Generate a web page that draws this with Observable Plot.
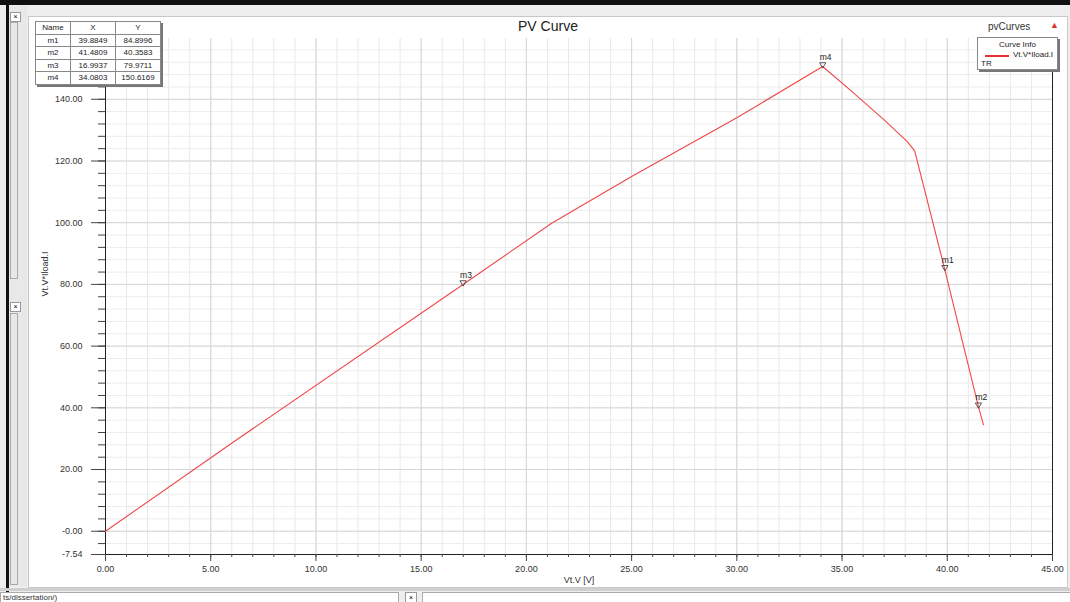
<!DOCTYPE html>
<html>
<head>
<meta charset="utf-8">
<script src="https://cdn.jsdelivr.net/npm/d3@7"></script>
<script src="https://cdn.jsdelivr.net/npm/@observablehq/plot@0.6"></script>
<style>
  body { margin: 0; background: #ffffff; font-family: "Liberation Sans", Arial, sans-serif; }
  #wrap { position: relative; width: 1070px; height: 602px; overflow: hidden; background: #eeeeee; }
  .abs { position: absolute; }
  #frame { left: 28px; top: 16px; width: 1040px; height: 572px; background: #ffffff; border: 1px solid #c8c8c8; box-sizing: border-box; }
  #chart { position: absolute; left: 0; top: 0; }
  #chart svg { background: transparent; }
  #title { left: 0; width: 1096px; top: 18px; text-align: center; font-size: 14px; color: #222; }
  #sub { left: 988px; top: 21px; font-size: 10px; color: #333; }
  #mtable { left: 35px; top: 21px; border-collapse: collapse; font-size: 8px; color: #222; background: #fff; box-shadow: 2px 2px 0 #777; }
  #mtable td { border: 1px solid #888; padding: 0 3px; height: 11.5px; text-align: center; line-height: 11px; }
  #legend { left: 977px; top: 37px; width: 81px; height: 33px; background: #fff; border: 1px solid #888; box-shadow: 2px 2px 0 #777; font-size: 8px; color: #222; box-sizing: border-box; }
</style>
</head>
<body>
<div id="wrap">
  <div class="abs" style="left:0;top:0;width:1070px;height:5px;background:#111"></div>
  <div class="abs" style="left:6px;top:0;width:3px;height:602px;background:#111"></div>
  <div class="abs" style="left:9px;top:6px;width:18px;height:580px;background:#e8e8e8"></div>
  <div class="abs" style="left:10px;top:12px;width:9px;height:8px;border:1px solid #999;background:#fff;font-size:7px;line-height:8px;text-align:center">×</div>
  <div class="abs" style="left:10px;top:22px;width:6px;height:255px;border:1px solid #aaa;"></div>
  <div class="abs" style="left:10px;top:302px;width:9px;height:8px;border:1px solid #999;background:#fff;font-size:7px;line-height:8px;text-align:center">×</div>
  <div class="abs" style="left:10px;top:313px;width:6px;height:270px;border:1px solid #aaa;"></div>
  <div class="abs" id="frame"></div>
  <div id="chart"></div>
  <div class="abs" id="title">PV Curve</div>
  <div class="abs" id="sub">pvCurves</div>
  <div class="abs" style="left:1050px;top:20px;font-size:9px;color:#d33">▲</div>
  <table class="abs" id="mtable"></table>
  <div class="abs" id="legend">
    <div style="text-align:center;margin-top:2px">Curve Info</div>
    <div style="position:absolute;left:7px;top:17px;width:24px;height:1.5px;background:#e83030"></div>
    <div style="position:absolute;left:35px;top:12px">Vt.V*Iload.I</div>
    <div style="position:absolute;left:3px;top:21px">TR</div>
  </div>
  <div class="abs" style="left:0;top:588px;width:1070px;height:3px;background:#cfcfcf"></div>
  <div class="abs" style="left:0;top:592px;width:395px;height:10px;background:#fff;border:1px solid #aaa;font-size:8px;line-height:10px;color:#333;padding-left:2px">ts/dissertation/)</div>
  <div class="abs" style="left:405px;top:592px;width:10px;height:9px;border:1px solid #999;background:#fff;font-size:7px;line-height:9px;text-align:center">×</div>
  <div class="abs" style="left:422px;top:592px;width:650px;height:10px;background:#fff;border:1px solid #aaa"></div>
</div>
<script>
// Curve data
const voltage = [0, 6.2, 16.99, 21.2, 25, 30, 34.08, 35.5, 37, 38.1, 38.45, 39.88, 41.48, 41.72];
const power   = [0, 29.5, 79.97, 99.8, 115, 134, 150.62, 142.3, 133.3, 126.3, 123.3, 84.90, 40.36, 34.5];

// Markers
const markerNames = ["m1", "m2", "m3", "m4"];
const markerX = [39.8849, 41.4809, 16.9937, 34.0803];
const markerY = [84.8996, 40.3583, 79.9711, 150.6169];

// Ticks
const xTicks = [0, 5, 10, 15, 20, 25, 30, 35, 40, 45];
const xTickLabels = ["0.00", "5.00", "10.00", "15.00", "20.00", "25.00", "30.00", "35.00", "40.00", "45.00"];
const yTicks = [-7.54, 0, 20, 40, 60, 80, 100, 120, 140];
const yTickLabels = ["-7.54", "-0.00", "20.00", "40.00", "60.00", "80.00", "100.00", "120.00", "140.00"];
const xMinor = d3.range(0, 46, 1);
const yMinor = d3.range(-4, 160, 4);

const curve = voltage.map((v, i) => ({v, p: power[i]}));
const markers = markerNames.map((n, i) => ({name: n, x: markerX[i], y: markerY[i]}));

// marker table
const tbl = document.getElementById("mtable");
tbl.innerHTML = `<tr><td style="width:28px">Name</td><td style="width:38px">X</td><td style="width:38px">Y</td></tr>` +
  markers.map(m => `<tr><td>${m.name}</td><td>${m.x.toFixed(4)}</td><td>${m.y.toFixed(4)}</td></tr>`).join("");

const chart = Plot.plot({
  width: 1070,
  height: 602,
  marginLeft: 105,
  marginRight: 18,
  marginTop: 38,
  marginBottom: 48,
  style: {background: "transparent", fontFamily: "Liberation Sans, Arial, sans-serif", fontSize: "9px", color: "#333"},
  x: {domain: [0, 45]},
  y: {domain: [-7.54, 159.7]},
  marks: [
    Plot.frame({fill: "#ffffff", stroke: "none"}),
    Plot.gridX(xMinor, {stroke: "#e8e8e8", strokeOpacity: 1}),
    Plot.gridY(yMinor, {stroke: "#ececec", strokeOpacity: 1}),
    Plot.gridX(xTicks, {stroke: "#d6d6d6", strokeOpacity: 1}),
    Plot.gridY(yTicks.slice(1), {stroke: "#d6d6d6", strokeOpacity: 1}),
    Plot.ruleX([0], {stroke: "#222"}),
    Plot.ruleY([-7.54], {stroke: "#222"}),
    Plot.ruleX([45], {y1: -7.54, y2: 149.5, stroke: "#222"}),
    Plot.axisY(yMinor, {tickSize: 7, text: null, stroke: "#444"}),
    Plot.axisY(yTicks, {tickSize: 14, tickPadding: 9, tickFormat: (d, i) => yTickLabels[i], stroke: "#444", fill: "#333", fontSize: 9, label: null}),
    Plot.axisX(xMinor, {tickSize: 3, text: null, stroke: "#444"}),
    Plot.axisX(xTicks, {tickSize: 7, tickPadding: 4, tickFormat: (d, i) => xTickLabels[i], stroke: "#444", fill: "#333", fontSize: 9, label: null}),
    Plot.text(["Vt.V [V]"], {frameAnchor: "bottom", dy: 28, fill: "#333", fontSize: 9}),
    Plot.text(["Vt.V*Iload.I"], {frameAnchor: "left", dx: -60, rotate: -90, fill: "#333", fontSize: 9}),
    Plot.line(curve, {x: "v", y: "p", stroke: "#f04848", strokeWidth: 1.1}),
    Plot.dot(markers, {x: "x", y: "y", symbol: "triangle", r: 2.3, rotate: 180, stroke: "#333", strokeWidth: 0.8, fill: "none", dy: -2}),
    Plot.text(markers, {x: "x", y: "y", text: "name", dy: -9, dx: -3, textAnchor: "start", fill: "#222", fontSize: 8.5})
  ]
});
document.getElementById("chart").appendChild(chart);
</script>
</body>
</html>
